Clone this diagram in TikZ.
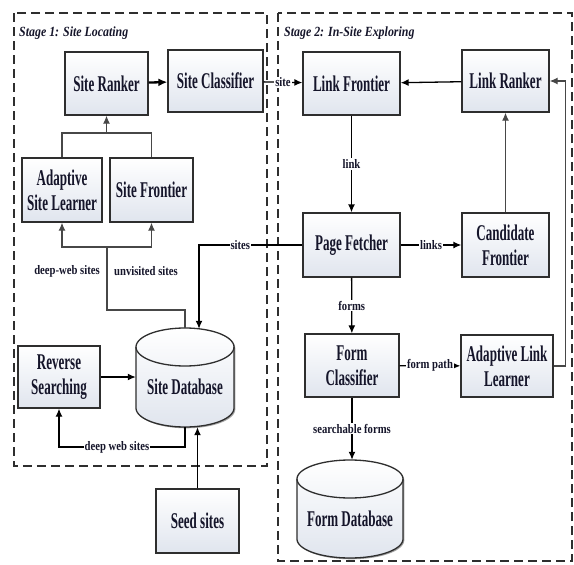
\documentclass[tikz,border=0pt]{standalone}
\usepackage{fontspec}
\setmainfont{Liberation Serif}
\newfontfamily\boxfont[FakeStretch=0.58]{Liberation Serif}
\newfontfamily\lblfont[FakeStretch=0.82]{Liberation Serif}
\newfontfamily\stagefont[FakeStretch=0.85]{Liberation Serif}
\usetikzlibrary{arrows.meta,shadows}
\definecolor{edge}{HTML}{2E2E2E}
\definecolor{grayline}{HTML}{474747}
\definecolor{boxbot}{HTML}{E0E5EE}
\definecolor{txt}{HTML}{15152A}
\tikzset{
 blk/.style={draw=edge, line width=1.3pt, top color=white, bottom color=boxbot,
   drop shadow={shadow xshift=1.3pt, shadow yshift=-1.3pt, fill=black!60, opacity=0.6},
   font=\boxfont\bfseries\fontsize{22.5}{25}\selectfont, text=txt, align=center, inner sep=0pt},
 dbtext/.style={font=\boxfont\bfseries\fontsize{22.5}{25}\selectfont, text=txt, align=center, inner sep=0pt},
 conn/.style={line width=1.3pt, draw=black, -{Latex[length=8pt,width=7pt]}},
 gconn/.style={line width=1.3pt, draw=grayline, -{Latex[length=8pt,width=7pt]}},
 gline/.style={line width=1.3pt, draw=grayline},
 lbl/.style={font=\lblfont\bfseries\fontsize{13}{13}\selectfont, fill=white, inner sep=1pt, text=txt},
 plainlbl/.style={font=\lblfont\bfseries\fontsize{13}{13}\selectfont, inner sep=1pt, text=txt},
 stagebox/.style={draw=edge, line width=2.3pt, dash pattern=on 9pt off 5pt},
 stagetitle/.style={font=\stagefont\bfseries\itshape\fontsize{14}{14}\selectfont, anchor=west, text=txt, inner sep=0pt},
}
% cylinder: #1 cx, #2 rx, #3 top ellipse centre y, #4 bottom ellipse centre y, #5 ry
\newcommand\dbcyl[5]{%
 \fill[black!60, opacity=0.6, xshift=1.3pt, yshift=-1.3pt] (#1-#2,#3) -- (#1-#2,#4) -- plot[domain=180:0,samples=40] ({#1+#2*cos(\x)},{#4+#5*sin(\x)}) -- (#1+#2,#3) -- plot[domain=0:-180,samples=40] ({#1+#2*cos(\x)},{#3+#5*sin(\x)}) -- cycle;
 \path[top color=white, bottom color=boxbot] (#1-#2,#3) -- (#1-#2,#4) -- plot[domain=180:0,samples=40] ({#1+#2*cos(\x)},{#4+#5*sin(\x)}) -- (#1+#2,#3) -- plot[domain=0:-180,samples=40] ({#1+#2*cos(\x)},{#3+#5*sin(\x)}) -- cycle;
 \draw[edge, line width=1.3pt, line join=round] (#1-#2,#3) -- (#1-#2,#4) -- plot[domain=180:0,samples=40] ({#1+#2*cos(\x)},{#4+#5*sin(\x)}) -- (#1+#2,#3) -- plot[domain=0:-180,samples=40] ({#1+#2*cos(\x)},{#3+#5*sin(\x)}) -- cycle;
 \draw[edge, line width=1.3pt] plot[domain=180:0,samples=40] ({#1+#2*cos(\x)},{#3+#5*sin(\x)});
}
\begin{document}
\begin{tikzpicture}[x=1pt,y=-1pt]
\useasboundingbox (0,0) rectangle (574,565);
\fill[white] (0,0) rectangle (574,565);

% stage frames
\draw[stagebox] (14,13) rectangle (267,466);
\draw[stagebox] (278,13) rectangle (572,561);
\node[stagetitle] (t1) at (19,33) {Stage 1: Site Locating};
\node[stagetitle] (t2) at (284,33) {Stage 2: In-Site Exploring};

% Stage 1 boxes
\node[blk, minimum width=83pt, minimum height=63pt] (sr) at (106.5,83.5) {Site Ranker};
\node[blk, minimum width=95pt, minimum height=62pt] (sc) at (215.5,81) {Site Classifier};
\node[blk, minimum width=80pt, minimum height=64pt] (asl) at (62,190) {Adaptive\\Site Learner};
\node[blk, minimum width=83pt, minimum height=64pt] (sf) at (151.5,190) {Site Frontier};
\node[blk, minimum width=82pt, minimum height=62pt] (rs) at (59,377) {Reverse\\Searching};
\node[blk, minimum width=83pt, minimum height=64pt] (seed) at (197.5,521) {Seed sites};
\dbcyl{185}{49}{347}{408}{19}
\node[dbtext, minimum width=98pt, minimum height=80pt] (sdb) at (185,387) {Site Database};

% Stage 2 boxes
\node[blk, minimum width=97pt, minimum height=63pt] (lf) at (351.5,83.5) {Link Frontier};
\node[blk, minimum width=87pt, minimum height=62pt] (lr) at (505.5,81) {Link Ranker};
\node[blk, minimum width=97pt, minimum height=64pt] (pf) at (351.5,245) {Page Fetcher};
\node[blk, minimum width=87pt, minimum height=64pt] (cf) at (505.5,245) {Candidate\\Frontier};
\node[blk, minimum width=94pt, minimum height=63pt] (fc) at (352,365.5) {Form\\Classifier};
\node[blk, minimum width=92pt, minimum height=62pt] (all) at (507,366) {Adaptive Link\\Learner};
\dbcyl{350}{53}{479}{539}{19}
\node[dbtext, minimum width=106pt, minimum height=79pt] (fdb) at (350,518.5) {Form Database};

% helper coordinates
\coordinate (sdbA) at ([xshift=14pt,yshift=18pt]sdb.north);
\coordinate (sdbB) at ([yshift=19pt]sdb.north);
\coordinate (fdbtop) at ([yshift=19pt]fdb.north);
\coordinate (jt) at (106.5,133);
\coordinate (jd) at (107,247);
\coordinate (sbend) at (199,245);

% Stage 1 connectors
\draw[line width=2.3pt, -{Latex[length=9pt,width=8pt]}] (sr) -- (sc);
\draw[gline] (asl.north) |- (jt) -| (sf.north);
\draw[gconn] (jt) -- (sr.south);
\draw[gline] (sdbB) -- (185,310) -| (jd);
\draw[gconn] (jd) -| (asl.south);
\draw[gconn] (jd) -| (sf.south);
\node[plainlbl] (l1) at (67,271) {deep-web sites};
\node[plainlbl] (l2) at (146,271) {unvisited sites};
\draw[conn] (rs.east) -- (rs.east -| sdb.west);
\draw[conn] (sdb.south) -- (185,447) -| node[lbl, pos=0.27] {deep web sites} (rs.south);
\draw[conn] (seed.north) -- (seed.north |- sdb.south);
\draw[conn] (pf.west) -- node[lbl, pos=0.6] {sites} (sbend) -- (sdbA);

% Stage 2 connectors
\draw[conn] (sc) -- node[lbl] {site} (lf);
\draw[conn] (lr) -- (lf);
\draw[conn] (lf) -- node[lbl] {link} (pf);
\draw[conn] (pf) -- node[lbl] {links} (cf);
\draw[gconn] (cf) -- (lr);
\draw[conn] (pf) -- node[lbl] {forms} (fc);
\draw[conn] (fc) -- node[lbl] {form path} (all);
\draw[conn] (fc.south) -- node[lbl] {searchable forms} (fc.south |- fdbtop);
\draw[gconn] (all.east) -- ++(12,0) |- (lr.east);
\end{tikzpicture}
\end{document}
